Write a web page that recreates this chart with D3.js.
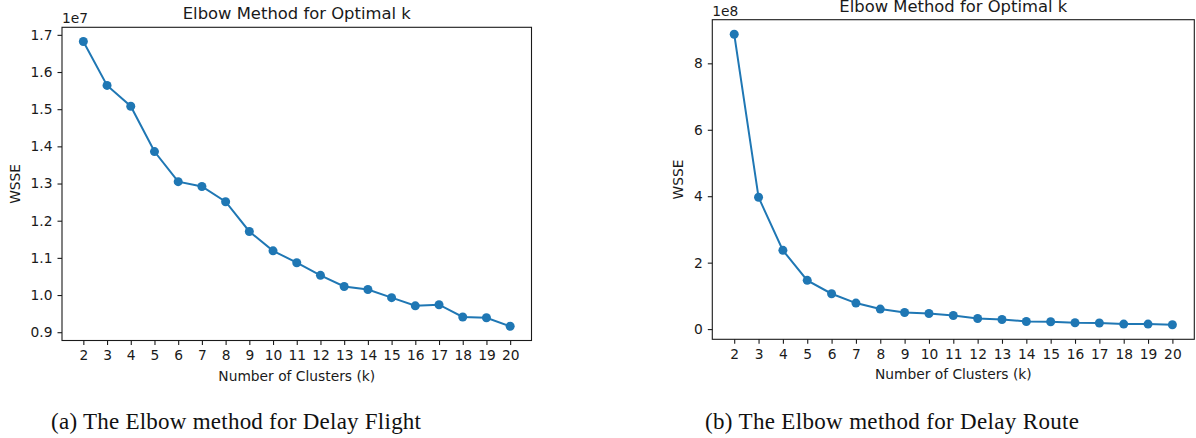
<!DOCTYPE html>
<html>
<head>
<meta charset="utf-8">
<script src="https://cdn.jsdelivr.net/npm/d3@7"></script>
<style>
  html, body { margin: 0; padding: 0; background: #fff; }
  svg { display: block; }
  text { font-family: "DejaVu Sans", sans-serif; fill: #1a1a1a; }
  .caption { font-family: "Liberation Serif", "DejaVu Serif", serif; fill: #111; }
</style>
</head>
<body>
<svg id="chart" width="1196" height="438"></svg>
<script>
// ---------- data ----------
const clusterK = [2, 3, 4, 5, 6, 7, 8, 9, 10, 11, 12, 13, 14, 15, 16, 17, 18, 19, 20];
const flightWSSE = [16820000, 15640000, 15080000, 13860000, 13050000, 12920000, 12510000, 11710000, 11190000,
                    10870000, 10530000, 10230000, 10150000, 9930000, 9710000, 9740000, 9410000, 9390000, 9160000];
const routeWSSE = [887600000, 396700000, 237000000, 146700000, 106400000, 78300000, 60200000, 50000000, 47000000,
                   41000000, 32000000, 29000000, 23000000, 22000000, 19000000, 18500000, 15000000, 15000000, 13000000];
const flightYTicks = [0.9, 1.0, 1.1, 1.2, 1.3, 1.4, 1.5, 1.6, 1.7];
const routeYTicks = [0, 2, 4, 6, 8];
const chartTitle = "Elbow Method for Optimal k";
const xLabel = "Number of Clusters (k)";
const yLabel = "WSSE";
const captions = ["(a) The Elbow method for Delay Flight", "(b) The Elbow method for Delay Route"];

// ---------- layout ----------
const panels = [
  { values: flightWSSE, exp: 7, yTicks: flightYTicks, fmt: d3.format(".1f"),
    left: 62, right: 531.5, top: 27.3, bottom: 340.5, ylabelX: 20, caption: captions[0], capX: 236, capW: 370 },
  { values: routeWSSE, exp: 8, yTicks: routeYTicks, fmt: d3.format("d"),
    left: 712.3, right: 1194.3, top: 19.7, bottom: 339.3, ylabelX: 683.3, caption: captions[1], capX: 892, capW: 374 }
];

const color = "#1f77b4";
const svg = d3.select("#chart");

function padded(ext) {
  const m = (ext[1] - ext[0]) * 0.05;
  return [ext[0] - m, ext[1] + m];
}

panels.forEach(p => {
  const scaled = p.values.map(v => v / Math.pow(10, p.exp));
  const x = d3.scaleLinear().domain(padded(d3.extent(clusterK))).range([p.left, p.right]);
  const y = d3.scaleLinear().domain(padded(d3.extent(scaled))).range([p.bottom, p.top]);
  const g = svg.append("g");

  // frame
  g.append("rect")
    .attr("x", p.left).attr("y", p.top)
    .attr("width", p.right - p.left).attr("height", p.bottom - p.top)
    .attr("fill", "none").attr("stroke", "#1a1a1a").attr("stroke-width", 1.1);

  // x axis
  const xAxis = d3.axisBottom(x).tickValues(clusterK).tickFormat(d3.format("d")).tickSize(4.5).tickPadding(5.5);
  const gx = g.append("g").attr("transform", `translate(0,${p.bottom})`).call(xAxis);
  gx.select(".domain").remove();
  gx.selectAll("line").attr("stroke", "#1a1a1a").attr("stroke-width", 1.1);
  gx.selectAll("text").attr("font-size", 13.8).attr("fill", "#1a1a1a").style("font-family", "DejaVu Sans");

  // y axis
  const yAxis = d3.axisLeft(y).tickValues(p.yTicks).tickFormat(p.fmt).tickSize(4.5).tickPadding(5);
  const gy = g.append("g").attr("transform", `translate(${p.left},0)`).call(yAxis);
  gy.select(".domain").remove();
  gy.selectAll("line").attr("stroke", "#1a1a1a").attr("stroke-width", 1.1);
  gy.selectAll("text").attr("font-size", 13.8).attr("fill", "#1a1a1a").style("font-family", "DejaVu Sans");

  // offset text
  g.append("text").attr("x", p.left).attr("y", p.top - 4.2)
    .attr("font-size", 13.8).text("1e" + p.exp);

  // title
  g.append("text").attr("x", (p.left + p.right) / 2).attr("y", p.top - 8.2)
    .attr("text-anchor", "middle").attr("font-size", 16.4).text(chartTitle);

  // axis labels
  g.append("text").attr("x", (p.left + p.right) / 2).attr("y", p.bottom + 40)
    .attr("text-anchor", "middle").attr("font-size", 13.8).text(xLabel);
  g.append("text")
    .attr("transform", `translate(${p.ylabelX},${(p.top + p.bottom) / 2}) rotate(-90)`)
    .attr("text-anchor", "middle").attr("font-size", 13.8).text(yLabel);

  // line + markers
  const pts = clusterK.map((k, i) => [k, scaled[i]]);
  g.append("path").datum(pts)
    .attr("fill", "none").attr("stroke", color).attr("stroke-width", 2)
    .attr("d", d3.line().x(d => x(d[0])).y(d => y(d[1])));
  g.selectAll("circle.pt").data(pts).enter().append("circle")
    .attr("class", "pt")
    .attr("cx", d => x(d[0])).attr("cy", d => y(d[1])).attr("r", 4.5)
    .attr("fill", color);

  // caption
  g.append("text").attr("class", "caption")
    .attr("x", p.capX).attr("y", 429)
    .attr("text-anchor", "middle").attr("font-size", 23)
    .attr("textLength", p.capW).attr("lengthAdjust", "spacing")
    .text(p.caption);
});
</script>
</body>
</html>
